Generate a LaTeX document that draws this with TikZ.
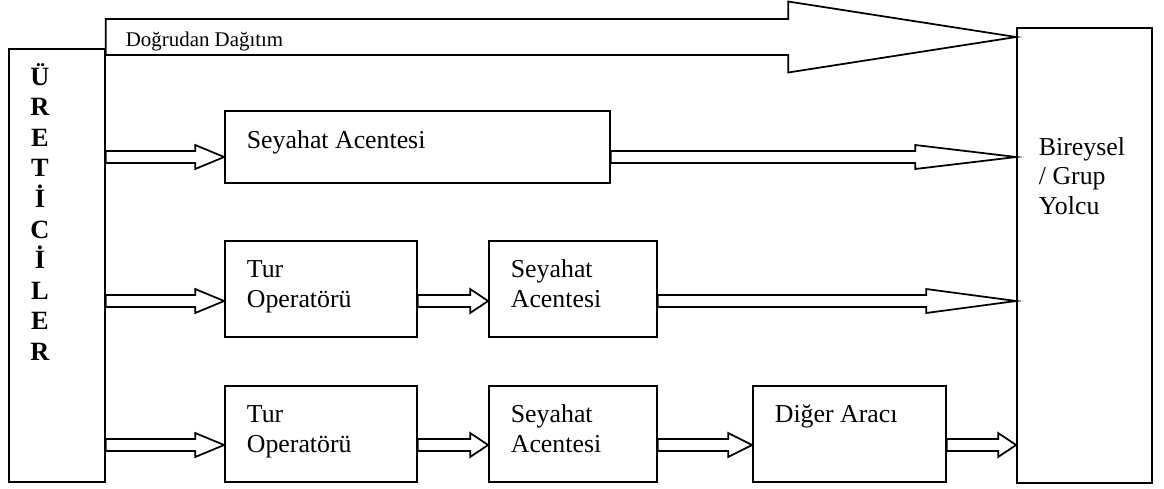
\documentclass[tikz,border=0pt]{standalone}
\usepackage{fontspec}
\setmainfont{Liberation Serif}
\usetikzlibrary{calc}
% #1 from node, #2 to node, #3 y-level coordinate, #4 head length, #5 shaft half width, #6 head half width
\newcommand\blockarrow[6]{%
  \draw[barrow] ($(#1.east|-#3)+(0,-#5)$) -- ($(#2.west|-#3)+(-#4,-#5)$)
    -- ($(#2.west|-#3)+(-#4,-#6)$) -- (#2.west|-#3)
    -- ($(#2.west|-#3)+(-#4,#6)$) -- ($(#2.west|-#3)+(-#4,#5)$)
    -- ($(#1.east|-#3)+(0,#5)$) -- cycle;}
\begin{document}
\begin{tikzpicture}[x=0.02cm,y=-0.02cm,line width=1pt,
  boxn/.style={draw,inner sep=0pt},
  txt/.style={inner sep=0pt,anchor=base west,font=\fontsize{14.7pt}{17pt}\selectfont},
  smalltxt/.style={inner sep=0pt,anchor=base west,font=\fontsize{11.9pt}{14pt}\selectfont},
  lettr/.style={inner sep=0pt,anchor=base,font=\fontsize{15pt}{17pt}\selectfont\bfseries},
  barrow/.style={draw,fill=white,line join=miter}]
\useasboundingbox (0,0) rectangle (1164,488);
% boxes
\node[boxn,minimum width=1.92cm,minimum height=8.66cm] (prod) at (57,265.5) {};
\node[boxn,minimum width=2.70cm,minimum height=9.10cm] (cust) at (1084.5,255.5) {};
\node[boxn,minimum width=7.70cm,minimum height=1.44cm] (sa1) at (417.5,147) {};
\node[boxn,minimum width=3.84cm,minimum height=1.92cm] (to2) at (321,289) {};
\node[boxn,minimum width=3.36cm,minimum height=1.92cm] (sa2) at (573,289) {};
\node[boxn,minimum width=3.84cm,minimum height=1.92cm] (to3) at (321,434) {};
\node[boxn,minimum width=3.36cm,minimum height=1.92cm] (sa3) at (573,434) {};
\node[boxn,minimum width=3.86cm,minimum height=1.92cm] (da3) at (849.5,434) {};
% y levels
\coordinate (y0) at (0,37);
\coordinate (y1) at (0,157);
\coordinate (y2) at (0,301);
\coordinate (y3) at (0,445);
% direct distribution arrow
\blockarrow{prod}{cust}{y0}{228}{18}{35.5}
% row arrows
\blockarrow{prod}{sa1}{y1}{29}{6}{12}
\blockarrow{sa1}{cust}{y1}{101}{6}{12}
\blockarrow{prod}{to2}{y2}{29}{6}{12}
\blockarrow{to2}{sa2}{y2}{18}{6}{12}
\blockarrow{sa2}{cust}{y2}{90}{6}{12}
\blockarrow{prod}{to3}{y3}{29}{6}{12}
\blockarrow{to3}{sa3}{y3}{18}{6}{12}
\blockarrow{sa3}{da3}{y3}{24}{6}{12}
\blockarrow{da3}{cust}{y3}{18}{6}{12}
% texts
\node[smalltxt] (dd) at (125,46) {Doğrudan Dağıtım};
\node[txt] (t1) at (246,148) {Seyahat Acentesi};
\node[txt] (t2a) at (246,277) {Tur};
\node[txt] (t2b) at (246,307) {Operatörü};
\node[txt] (t2c) at (510,277) {Seyahat};
\node[txt] (t2d) at (510,307) {Acentesi};
\node[txt] (t3a) at (246,422) {Tur};
\node[txt] (t3b) at (246,452) {Operatörü};
\node[txt] (t3c) at (510,422) {Seyahat};
\node[txt] (t3d) at (510,452) {Acentesi};
\node[txt] (t3e) at (774,422) {Diğer Aracı};
\node[txt] (c1) at (1038,155) {Bireysel};
\node[txt] (c2) at (1038,184) {/ Grup};
\node[txt] (c3) at (1038,214) {Yolcu};
\foreach \l [count=\i] in {Ü,R,E,T,İ,C,İ,L,E,R}
  \node[lettr] (p\i) at (40,{85+30.6*(\i-1)}) {\l};
\end{tikzpicture}
\end{document}
